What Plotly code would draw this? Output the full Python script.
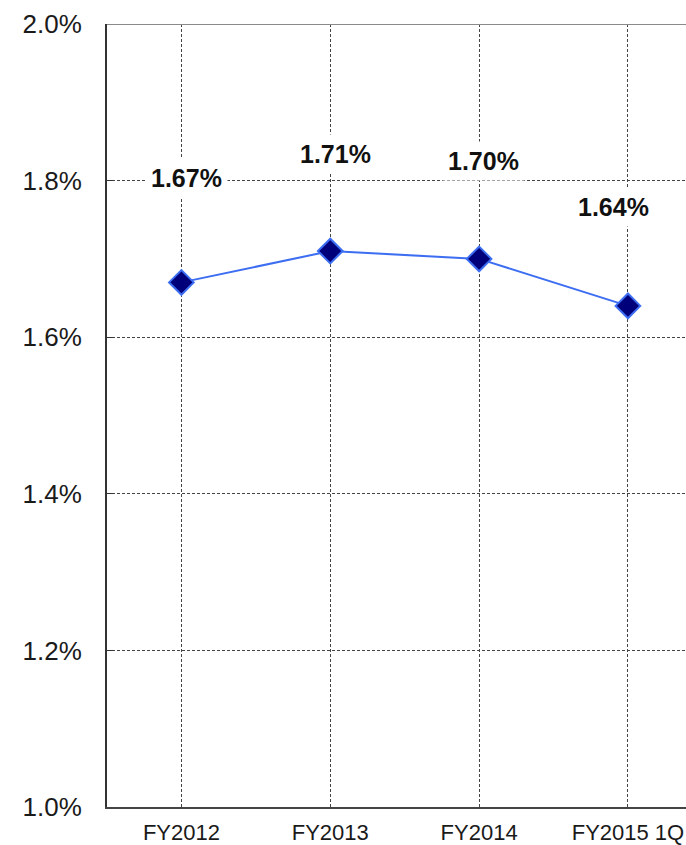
import plotly.graph_objects as go

categories = ["FY2012", "FY2013", "FY2014", "FY2015 1Q"]
values = [1.67, 1.71, 1.70, 1.64]
labels = ["1.67%", "1.71%", "1.70%", "1.64%"]
y_ticks = [1.0, 1.2, 1.4, 1.6, 1.8, 2.0]
y_tick_text = ["1.0%", "1.2%", "1.4%", "1.6%", "1.8%", "2.0%"]

# style: label offsets in pixels
label_dx = [5, 5, 4, -14]
label_dy = [104, 97, 98, 99]

FONT = "Liberation Sans, Arial, sans-serif"

fig = go.Figure()
fig.add_trace(go.Scatter(
    x=list(range(len(categories))), y=values, mode="lines+markers",
    line=dict(color="#3d6ef2", width=2),
    marker=dict(symbol="diamond", size=19, color="#00007a",
                line=dict(color="#3d6ef2", width=2)),
    hoverinfo="skip", showlegend=False,
))

for i, (v, t) in enumerate(zip(values, labels)):
    fig.add_annotation(
        x=i, y=v, text=f"<b>{t}</b>", showarrow=False,
        xshift=label_dx[i], yshift=label_dy[i],
        font=dict(family=FONT, size=25, color="#111111"),
        bgcolor="white", borderpad=5,
    )

fig.add_shape(type="line", xref="paper", yref="y", x0=0, x1=1, y0=2.0, y1=2.0,
              line=dict(color="#8a8a8a", width=2), layer="above")

fig.update_layout(
    width=686, height=845,
    margin=dict(l=107, r=0, t=24, b=38, autoexpand=False),
    paper_bgcolor="white", plot_bgcolor="white",
    font=dict(family=FONT, color="#1a1a1a"),
    xaxis=dict(
        range=[-0.5, 3.39], tickmode="array",
        tickvals=list(range(len(categories))), ticktext=categories,
        showgrid=True, gridcolor="#444444", gridwidth=1, griddash="3px,2px",
        showline=True, linecolor="#444444", linewidth=2,
        ticks="", tickfont=dict(size=22, family=FONT, color="#1a1a1a"),
        ticklabelstandoff=5, zeroline=False, fixedrange=True, automargin=False,
    ),
    yaxis=dict(
        range=[1.0, 2.0], tickmode="array", tickvals=y_ticks, ticktext=y_tick_text,
        showgrid=True, gridcolor="#444444", gridwidth=1, griddash="3px,2px",
        showline=True, linecolor="#333333", linewidth=2,
        ticks="inside", ticklen=6, tickcolor="#333333",
        tickfont=dict(size=26, family=FONT, color="#1a1a1a"),
        ticklabelstandoff=18, zeroline=False, fixedrange=True, automargin=False,
    ),
)

fig.write_html(
    "out.html",
    config={"displayModeBar": False},
    post_script="document.body.style.margin='0';document.body.style.overflow='hidden';",
)
